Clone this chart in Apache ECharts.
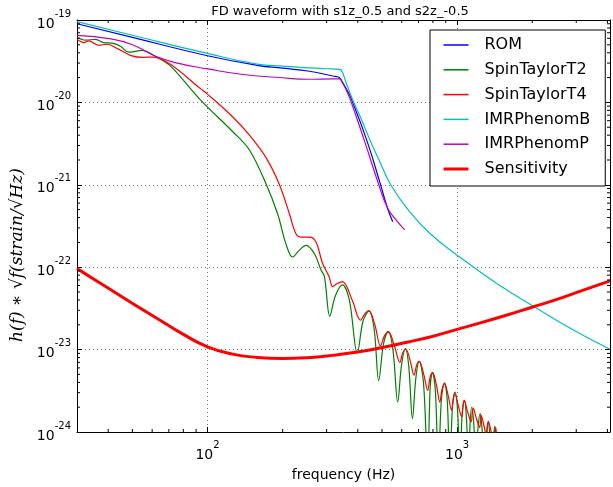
<!DOCTYPE html>
<html><head><meta charset="utf-8">
<script src="https://cdn.jsdelivr.net/npm/echarts@6/dist/echarts.min.js"></script>
<style>html,body{margin:0;padding:0;background:#fff}#c{width:613px;height:487px}</style>
</head><body><div id="c"></div>
<script>
// ---- data ----
const romFreq = [30, 50, 100, 158, 200, 256, 317, 337, 347, 362, 376, 436, 493, 525, 552];
const romVals = [9.0e-20, 6.15e-20, 3.68e-20, 2.82e-20, 2.60e-20, 2.39e-20, 2.09e-20, 2.0e-20, 1.76e-20, 1.41e-20, 1.12e-20, 3.36e-21, 1.01e-21, 5.31e-22, 3.57e-22];

const t2Freq = [30, 32.4, 35.6, 38.4, 41.5, 44.8, 48.3, 54.6, 62, 70.8, 93.2, 126, 147, 172, 191, 206, 219, 233, 248, 268, 285, 294, 309, 325, 347, 370, 398, 420, 443, 465, 485, 507, 529, 553, 578, 598, 620, 640, 662, 683, 705, 733, 762, 780, 796, 818, 841, 865, 890, 912, 935, 958, 980, 1003, 1026, 1047, 1068, 1089, 1110, 1128, 1145, 1166, 1188, 1212, 1237, 1260, 1283, 1308, 1333, 1353, 1373, 1395, 1416, 1438, 1460];
const t2Vals = [6.17e-20, 5.69e-20, 5.82e-20, 5.31e-20, 5.25e-20, 4.79e-20, 4.07e-20, 4.27e-20, 3.59e-20, 2.79e-20, 1.09e-20, 4.43e-21, 2.66e-21, 1.01e-21, 4.42e-22, 1.93e-22, 1.33e-22, 1.60e-22, 1.84e-22, 1.46e-22, 9.23e-23, 7.67e-23, 2.54e-23, 4.47e-23, 6.10e-23, 3.98e-23, 9.06e-24, 2.24e-23, 2.92e-23, 1.78e-23, 4.21e-24, 1.17e-23, 1.66e-23, 1.0e-23, 2.31e-24, 6.31e-24, 1.03e-23, 6.31e-24, 1.45e-24, 4.47e-24, 7.18e-24, 3.98e-24, 3.98e-25, 3.55e-24, 5.30e-24, 3.16e-24, 3.98e-25, 2.51e-24, 3.94e-24, 2.51e-24, 3.98e-25, 2.04e-24, 3.05e-24, 1.91e-24, 3.98e-25, 1.62e-24, 2.42e-24, 1.51e-24, 3.98e-25, 1.35e-24, 2.01e-24, 1.26e-24, 3.98e-25, 1.12e-24, 1.67e-24, 1.05e-24, 3.98e-25, 9.1e-25, 1.36e-24, 8.5e-25, 3.98e-25, 7.9e-25, 1.18e-24, 7.4e-25, 3.98e-25];

const t4Freq = [30, 32, 33.4, 36.6, 39.6, 44, 49.8, 55.3, 60.7, 70.8, 93.2, 100, 126, 147, 172, 194, 213, 226, 237, 256, 272, 289, 307, 317, 330, 347, 380, 410, 428, 443, 468, 493, 512, 532, 560, 590, 605, 623, 648, 672, 688, 705, 735, 762, 780, 798, 826, 852, 870, 890, 920, 950, 965, 980, 1010, 1043, 1056, 1068, 1100, 1139, 1150, 1160, 1195, 1232, 1240, 1246, 1280, 1311, 1322, 1333, 1370, 1400, 1412, 1425, 1480];
const t4Vals = [5.83e-20, 5.32e-20, 5.57e-20, 4.94e-20, 5.08e-20, 4.43e-20, 3.67e-20, 3.52e-20, 3.55e-20, 2.92e-20, 1.49e-20, 1.26e-20, 6.70e-21, 4.03e-21, 2.11e-21, 1.01e-21, 4.42e-22, 2.54e-22, 2.32e-22, 2.32e-22, 2.02e-22, 1.11e-22, 7.67e-23, 5.82e-23, 6.31e-23, 6.68e-23, 3.98e-23, 2.27e-23, 2.75e-23, 2.97e-23, 2.0e-23, 1.11e-23, 1.48e-23, 1.63e-23, 1.12e-23, 6.98e-24, 9.12e-24, 1.01e-23, 7.41e-24, 4.90e-24, 6.46e-24, 7.18e-24, 5.01e-24, 3.19e-24, 4.68e-24, 5.21e-24, 3.72e-24, 2.31e-24, 3.31e-24, 3.84e-24, 2.8e-24, 1.84e-24, 2.5e-24, 2.91e-24, 2.1e-24, 1.53e-24, 2.1e-24, 2.42e-24, 1.78e-24, 1.33e-24, 1.7e-24, 1.92e-24, 1.45e-24, 1.13e-24, 1.4e-24, 1.60e-24, 1.2e-24, 8.9e-25, 1.15e-24, 1.33e-24, 1.0e-24, 7.9e-25, 1.0e-24, 1.12e-24, 5.0e-25];

const ibFreq = [30, 50, 100, 158, 200, 256, 300, 337, 342, 360, 380, 412, 450, 493, 541, 640, 769, 1012, 1462, 2046, 2911, 4096];
const ibVals = [9.55e-20, 6.53e-20, 3.93e-20, 2.92e-20, 2.75e-20, 2.62e-20, 2.56e-20, 2.52e-20, 2.49e-20, 1.70e-20, 1.11e-20, 6.38e-21, 3.36e-21, 1.84e-21, 1.01e-21, 4.86e-22, 2.66e-22, 1.36e-22, 6.17e-23, 3.28e-23, 1.74e-23, 1.01e-23];

const ipFreq = [30, 41, 50, 62, 75, 100, 139, 189, 256, 317, 337, 347, 362, 376, 426, 485, 525, 570, 617];
const ipVals = [6.52e-20, 5.89e-20, 5.01e-20, 3.63e-20, 3.02e-20, 2.55e-20, 2.18e-20, 2.02e-20, 1.91e-20, 1.93e-20, 1.93e-20, 1.73e-20, 1.35e-20, 1.02e-20, 3.36e-21, 1.01e-21, 5.31e-22, 3.72e-22, 2.84e-22];

const sensFreq = [30, 31.6, 39.8, 50.1, 63.1, 79.4, 100, 125.9, 158.5, 199.5, 251.2, 316.2, 398.1, 501.2, 631, 794.3, 1000, 1259, 1585, 1995, 2512, 3162, 4096];
const sensVals = [9.64e-23, 8.71e-23, 5.62e-23, 3.63e-23, 2.37e-23, 1.55e-23, 1.08e-23, 8.81e-24, 8.04e-24, 7.80e-24, 7.98e-24, 8.51e-24, 9.33e-24, 1.06e-23, 1.23e-23, 1.445e-23, 1.76e-23, 2.14e-23, 2.63e-23, 3.27e-23, 4.07e-23, 5.19e-23, 6.81e-23];

const seriesNames = ['ROM', 'SpinTaylorT2', 'SpinTaylorT4', 'IMRPhenomB', 'IMRPhenomP', 'Sensitivity'];
const yTickExps = [-24, -23, -22, -21, -20, -19];
const xTickExps = [2, 3];
const xRange = [30, 4096];
const yRange = [1e-24, 1e-19];

// The y values are tiny (1e-24): ECharts' log scale rounds tick values to 10 decimals,
// so the axis works in units of 1e-24 (unit change only) and the labels restore the exponent.
const Y_UNIT_EXP = 24;
const toAxis = v => v * Math.pow(10, Y_UNIT_EXP);

// ---- helpers ----
const zip = (a, b) => a.map((v, i) => [v, toAxis(b[i])]);
const xMinor = [], yMinor = [];
for (let e = 1; e <= 3; e++) for (let m = 2; m <= 9; m++) { const v = m * Math.pow(10, e); if (v > xRange[0] && v < xRange[1]) xMinor.push(v); }
for (let e = -24; e <= -20; e++) for (let m = 2; m <= 9; m++) yMinor.push(parseFloat(m + 'e' + e));

function powLabel(v, exps, shift) {
  const e = Math.log10(v), r = Math.round(e);
  if (Math.abs(e - r) > 1e-6) return '';
  const ex = r - shift;
  if (exps.indexOf(ex) < 0) return '';
  return '{b|10}{s|' + ex + '}';
}
const richLbl = {
  b: { fontSize: 14, fontFamily: 'DejaVu Sans', color: '#000', lineHeight: 22, verticalAlign: 'bottom' },
  s: { fontSize: 10, fontFamily: 'DejaVu Sans', color: '#000', lineHeight: 22, verticalAlign: 'top' }
};
const axisLineStyle = { show: true, onZero: false, lineStyle: { color: '#000', width: 1 } };
const tickStyle = { show: true, inside: true, length: 5, lineStyle: { color: '#000', width: 1 } };
const gridStyle = { show: true, lineStyle: { color: '#777', width: 1, type: [1, 3] } };

function minorTicks(isX) {
  return {
    type: 'custom', silent: true, z: 10, clip: false,
    data: isX ? xMinor.map(f => [f, toAxis(yRange[0])]) : yMinor.map(v => [xRange[0], toAxis(v)]),
    renderItem(params, api) {
      const st = { stroke: '#000', lineWidth: 1 };
      if (isX) {
        const f = api.value(0);
        const b = api.coord([f, toAxis(yRange[0])]), t = api.coord([f, toAxis(yRange[1])]);
        return { type: 'group', children: [
          { type: 'line', shape: { x1: b[0], y1: b[1], x2: b[0], y2: b[1] - 3 }, style: st },
          { type: 'line', shape: { x1: t[0], y1: t[1], x2: t[0], y2: t[1] + 3 }, style: st }] };
      }
      const v = api.value(1);
      const l = api.coord([xRange[0], v]), r = api.coord([xRange[1], v]);
      return { type: 'group', children: [
        { type: 'line', shape: { x1: l[0], y1: l[1], x2: l[0] + 3, y2: l[1] }, style: st },
        { type: 'line', shape: { x1: r[0], y1: r[1], x2: r[0] - 3, y2: r[1] }, style: st }] };
    }
  };
}

function lineSeries(name, f, v, color, width, smooth) {
  return { name, type: 'line', data: zip(f, v), symbol: 'none', smooth, clip: true,
    lineStyle: { color, width }, itemStyle: { color }, emphasis: { disabled: true } };
}

const chart = echarts.init(document.getElementById('c'), null, { renderer: 'canvas' });
chart.setOption({
  animation: false,
  backgroundColor: '#fff',
  textStyle: { fontFamily: 'DejaVu Sans' },
  title: { text: 'FD waveform with s1z_0.5 and s2z_-0.5', left: 335, top: 0, textAlign: 'center',
    textStyle: { fontSize: 13, fontWeight: 'normal', color: '#000', fontFamily: 'DejaVu Sans' } },
  grid: { left: 77, right: 1, top: 20, bottom: 50 },
  legend: {
    orient: 'vertical', left: 430, top: 30, padding: [7, 15, 9, 12], itemGap: 8.8,
    itemWidth: 25, itemHeight: 16, borderColor: '#000', borderWidth: 1, backgroundColor: '#fff',
    itemStyle: { opacity: 0 },
    textStyle: { fontFamily: 'DejaVu Sans', fontSize: 16, color: '#000', lineHeight: 16, padding: [0, 0, 0, 11] },
    data: seriesNames.map(n => n === 'Sensitivity' ? { name: n, lineStyle: { width: 3 } } : { name: n, lineStyle: { width: 1.5 } })
  },
  xAxis: [
    { type: 'log', logBase: 10, min: xRange[0], max: xRange[1], position: 'bottom',
      axisLine: axisLineStyle, axisTick: tickStyle, minorTick: { show: false }, splitLine: gridStyle,
      axisLabel: { formatter: v => powLabel(v, xTickExps, 0), rich: richLbl, margin: 8 },
      name: 'frequency (Hz)', nameLocation: 'middle', nameGap: 36,
      nameTextStyle: { fontSize: 14, color: '#000', fontFamily: 'DejaVu Sans' } },
    { type: 'log', logBase: 10, min: xRange[0], max: xRange[1], position: 'top',
      axisLine: axisLineStyle, axisTick: tickStyle, minorTick: { show: false }, splitLine: { show: false },
      axisLabel: { show: false } }
  ],
  yAxis: [
    { type: 'log', logBase: 10, min: toAxis(yRange[0]), max: toAxis(yRange[1]), position: 'left',
      axisLine: axisLineStyle, axisTick: tickStyle, minorTick: { show: false }, splitLine: gridStyle,
      axisLabel: { formatter: v => powLabel(v, yTickExps, Y_UNIT_EXP), rich: richLbl, margin: 6 },
      name: 'h(f) ∗ √f(strain/√Hz)', nameLocation: 'middle', nameGap: 50, nameRotate: 90,
      nameTextStyle: { fontSize: 17, color: '#000', fontFamily: 'DejaVu Serif', fontStyle: 'italic', padding: [0, 58, 0, 0] } },
    { type: 'log', logBase: 10, min: toAxis(yRange[0]), max: toAxis(yRange[1]), position: 'right',
      axisLine: axisLineStyle, axisTick: tickStyle, minorTick: { show: false }, splitLine: { show: false },
      axisLabel: { show: false } }
  ],
  series: [
    lineSeries('ROM', romFreq, romVals, '#0000ff', 1.2, 0.5),
    lineSeries('SpinTaylorT2', t2Freq, t2Vals, '#008000', 1.2, 0.35),
    lineSeries('SpinTaylorT4', t4Freq, t4Vals, '#ff0000', 1.2, 0.35),
    lineSeries('IMRPhenomB', ibFreq, ibVals, '#00bfbf', 1.2, 0.5),
    lineSeries('IMRPhenomP', ipFreq, ipVals, '#bf00bf', 1.2, 0.5),
    lineSeries('Sensitivity', sensFreq, sensVals, '#ff0000', 3, 0.5),
    minorTicks(true),
    minorTicks(false)
  ]
});
</script></body></html>
